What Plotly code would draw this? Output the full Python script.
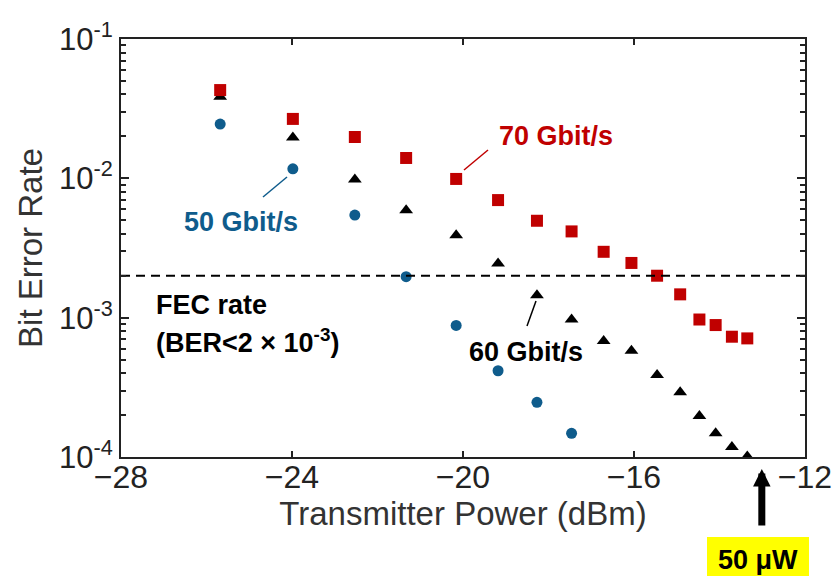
import plotly.graph_objects as go

# ---- data ----
power_dbm = [-25.68, -23.98, -22.53, -21.33, -20.16, -19.18, -18.27, -17.46,
             -16.71, -16.06, -15.46, -14.92, -14.47, -14.09, -13.71, -13.35]

ber_50 = [0.0245, 0.0117, 0.00545, 0.00197, 0.00088, 0.000416, 0.000247, 0.000148]
ber_60 = [0.0385, 0.0196, 0.0098, 0.0059, 0.0039, 0.00245, 0.00145, 0.00097,
          0.00068, 0.00058, 0.000387, 0.000291, 0.000197, 0.000148, 0.000118, 0.000101]
ber_70 = [0.043, 0.0267, 0.0198, 0.014, 0.0099, 0.00698, 0.00496, 0.00416,
          0.00297, 0.00247, 0.0020, 0.00147, 0.00097, 0.000885, 0.00073, 0.00071]

FEC_THRESHOLD = 2e-3
MARK_POWER_DBM = -13.01   # 50 uW

x_tickvals = [-28, -24, -20, -16, -12]
x_ticktext = ["\u221228", "\u221224", "\u221220", "\u221216", "\u221212"]
y_tickvals = [1e-4, 1e-3, 1e-2, 1e-1]
y_ticktext = ["10<sup>-4</sup>", "10<sup>-3</sup>", "10<sup>-2</sup>", "10<sup>-1</sup>"]
y_minor = [k * 10.0 ** e for e in (-4, -3, -2) for k in range(2, 10)]

RED = "#c00000"
BLUE = "#0f5c8c"
FONT = "Liberation Sans, Arial, Helvetica, sans-serif"

fig = go.Figure()

fig.add_trace(go.Scatter(x=power_dbm[:len(ber_50)], y=ber_50, mode="markers",
                         marker=dict(symbol="circle", size=11, color=BLUE),
                         name="50 Gbit/s"))
fig.add_trace(go.Scatter(x=power_dbm[:len(ber_60)], y=ber_60, mode="markers",
                         marker=dict(symbol="triangle-up", size=12, color="black"),
                         name="60 Gbit/s"))
fig.add_trace(go.Scatter(x=power_dbm[:len(ber_70)], y=ber_70, mode="markers",
                         marker=dict(symbol="square", size=12, color=RED),
                         name="70 Gbit/s"))
fig.add_trace(go.Scatter(x=[x_tickvals[0], x_tickvals[-1]], y=[FEC_THRESHOLD, FEC_THRESHOLD],
                         mode="lines", line=dict(color="black", width=2, dash="9px,6px"),
                         name="FEC"))

axis_common = dict(showline=True, linecolor="#222", linewidth=2, mirror="allticks",
                   ticks="inside", showgrid=False, zeroline=False, tickcolor="#222")

fig.update_xaxes(range=[-28, -12], tickvals=x_tickvals, ticktext=x_ticktext,
                 ticklen=6, tickwidth=2, ticklabelstandoff=-9,
                 tickfont=dict(family=FONT, size=32, color="#222"),
                 title=dict(text="Transmitter Power (dBm)",
                            font=dict(family=FONT, size=33, color="#333"), standoff=2),
                 **axis_common)
fig.update_yaxes(type="log", range=[-4, -1], tickvals=y_tickvals, ticktext=y_ticktext,
                 ticklen=8, tickwidth=2,
                 minor=dict(ticks="inside", ticklen=5, tickwidth=1.5, tickvals=y_minor,
                            tickcolor="#222", showgrid=False),
                 tickfont=dict(family=FONT, size=31, color="#222"),
                 title=dict(text="Bit Error Rate",
                            font=dict(family=FONT, size=33, color="#333"), standoff=6),
                 **axis_common)

L, R, T, B, W, H = 121, 32, 39, 119, 837, 576
pw, ph = W - L - R, H - T - B


def px(x):
    return (x - L) / pw


def py(y):
    return (H - B - y) / ph


shapes = [
    dict(type="line", xref="paper", yref="paper", x0=px(464), y0=py(170), x1=px(488), y1=py(150),
         line=dict(color=RED, width=1.5)),
    dict(type="line", xref="paper", yref="paper", x0=px(287), y0=py(177), x1=px(263), y1=py(197),
         line=dict(color=BLUE, width=1.5)),
    dict(type="line", xref="paper", yref="paper", x0=px(536), y0=py(301), x1=px(527), y1=py(326),
         line=dict(color="black", width=1.5)),
    dict(type="rect", xref="paper", yref="paper", x0=px(707), x1=px(809), y0=py(585), y1=py(537),
         fillcolor="#ffff00", line=dict(width=0)),
]

bold = dict(family=FONT, size=27)
C = dict(xanchor="center", yanchor="middle", showarrow=False)
annotations = [
    dict(xref="paper", yref="paper", x=px(556), y=py(136), text="<b>70 Gbit/s</b>",
         font=dict(color=RED, **bold), **C),
    dict(xref="paper", yref="paper", x=px(241), y=py(222), text="<b>50 Gbit/s</b>",
         font=dict(color=BLUE, **bold), **C),
    dict(xref="paper", yref="paper", x=px(526), y=py(352), text="<b>60 Gbit/s</b>",
         font=dict(color="black", **bold), **C),
    dict(xref="paper", yref="paper", x=px(154), y=py(305), xanchor="left", yanchor="middle",
         text="<b>FEC rate</b>", showarrow=False, font=dict(color="black", **bold)),
    dict(xref="paper", yref="paper", x=px(154), y=py(341), xanchor="left", yanchor="middle",
         text="<b>(BER<2 \u00d7 10<sup>-3</sup>)</b>",
         showarrow=False, font=dict(color="black", **bold)),
    dict(xref="x", yref="paper", x=MARK_POWER_DBM, y=py(469), text="", showarrow=True,
         ax=0, ay=58, arrowhead=2, arrowsize=0.5, arrowwidth=7, arrowcolor="black"),
    dict(xref="paper", yref="paper", x=px(758), y=py(560), text="<b>50 \u03bcW</b>",
         font=dict(color="black", **bold), **C),
]

fig.update_layout(width=W, height=H, margin=dict(l=L, r=R, t=T, b=B, autoexpand=False),
                  plot_bgcolor="white", paper_bgcolor="white", showlegend=False,
                  shapes=shapes, annotations=annotations)

fig.write_html("out.html")
